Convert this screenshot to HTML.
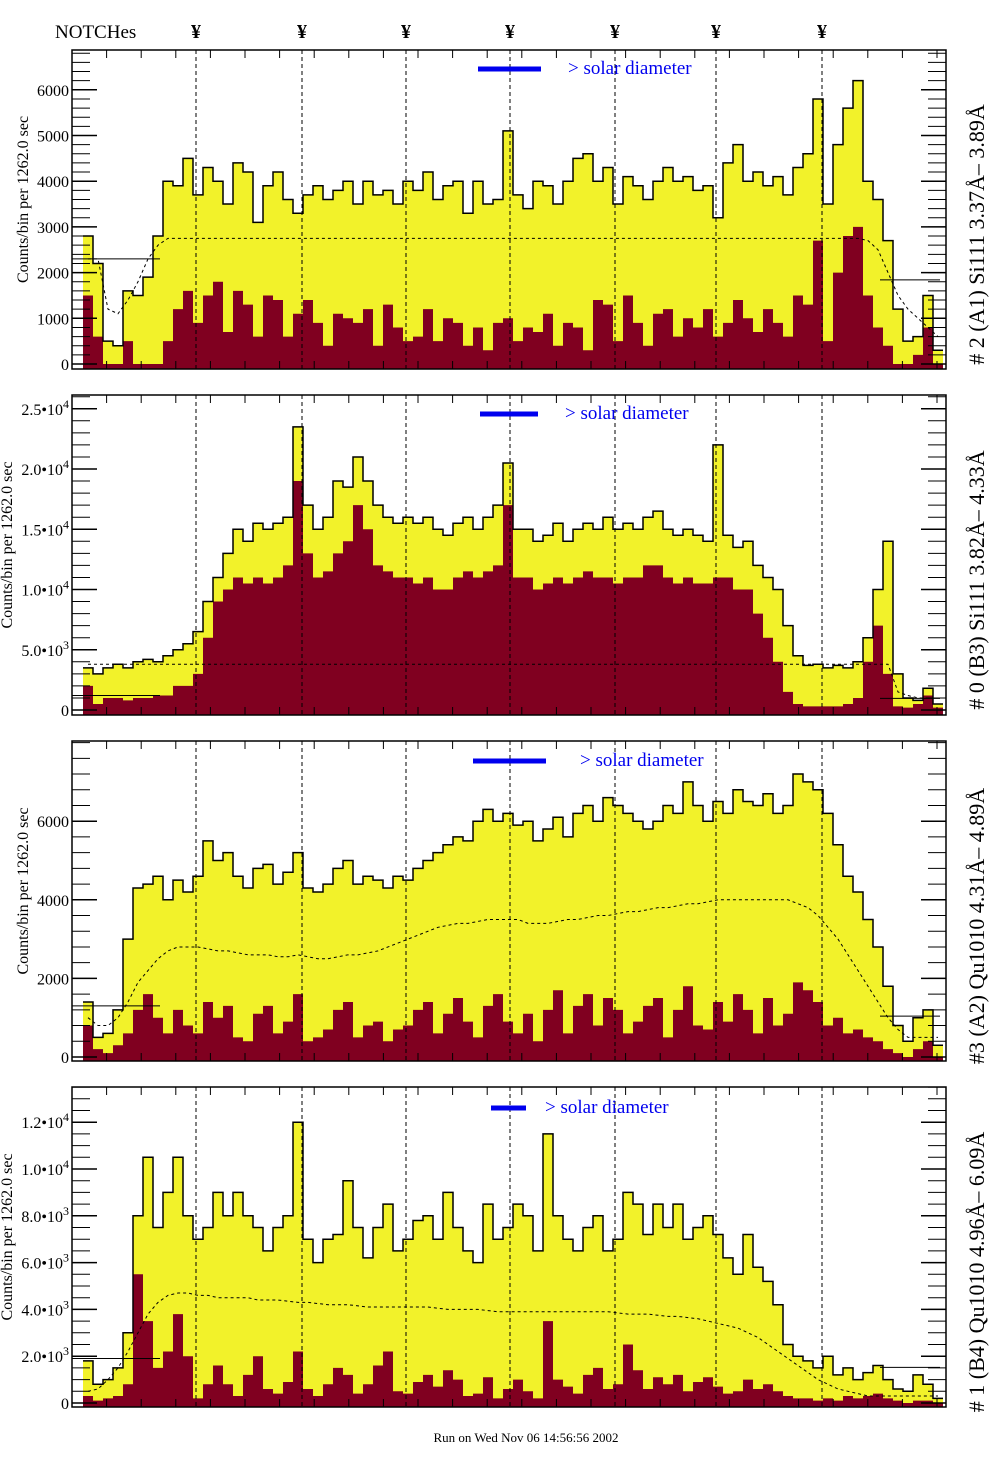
<!DOCTYPE html>
<html><head><meta charset="utf-8">
<style>
body{margin:0;background:#fff;}
svg{display:block;font-family:"Liberation Serif",serif;}
</style></head>
<body>
<svg id="chart" width="1004" height="1476" viewBox="0 0 1004 1476" xmlns="http://www.w3.org/2000/svg">
<text x="55" y="38" font-size="19">NOTCHes</text>
<text x="526" y="1442" font-size="13" text-anchor="middle">Run on Wed Nov 06 14:56:56 2002</text>
</svg>
<script>
// Bin centers start
const binStart = 88;
const binWidth = 10;
const notchX = [196, 302, 406, 510, 615, 716, 822];

// Panel 1 (thousands of counts)
const p1Total = [2.8,2.2,0.5,0.4,1.6,1.5,1.9,2.8,4.0,3.9,4.5,3.7,4.3,4.0,3.5,4.4,4.2,3.1,3.9,4.2,3.6,3.3,3.7,3.9,3.6,3.8,4.0,3.5,4.0,3.7,3.8,3.5,4.0,3.8,4.2,3.6,3.9,4.0,3.3,4.0,3.5,3.6,5.1,3.7,3.4,4.0,3.9,3.5,4.0,4.5,4.6,4.0,4.3,3.5,4.1,3.9,3.6,4.0,4.3,4.0,4.1,3.8,3.9,3.2,4.4,4.8,4.0,4.2,3.9,4.1,3.7,4.3,4.6,5.8,3.5,4.8,5.6,6.2,4.0,3.6,2.7,1.2,0.5,0.6,1.5,0.3];
const p1Inner = [1.5,0.6,0.0,0.0,0.5,0.0,0.0,0.0,0.5,1.2,1.6,0.9,1.5,1.8,0.7,1.6,1.3,0.6,1.5,1.4,0.6,1.1,1.4,0.9,0.4,1.1,1.0,0.9,1.2,0.4,1.3,0.8,0.5,0.6,1.2,0.5,1.0,0.9,0.4,0.8,0.3,0.9,1.0,0.5,0.8,0.7,1.1,0.4,0.9,0.8,0.3,1.4,1.3,0.5,1.5,0.9,0.4,1.1,1.2,0.6,1.0,0.8,1.2,0.6,0.9,1.4,1.0,0.7,1.2,0.9,0.6,1.5,1.3,2.7,0.5,2.0,2.8,3.0,1.5,0.8,0.4,0.0,0.0,0.2,0.8,0.0];
const p1Model = [2.3,2.3,1.2,1.1,1.4,1.8,2.3,2.6,2.75,2.75,2.75,2.75,2.75,2.75,2.75,2.75,2.75,2.75,2.75,2.75,2.75,2.75,2.75,2.75,2.75,2.75,2.75,2.75,2.75,2.75,2.75,2.75,2.75,2.75,2.75,2.75,2.75,2.75,2.75,2.75,2.75,2.75,2.75,2.75,2.75,2.75,2.75,2.75,2.75,2.75,2.75,2.75,2.75,2.75,2.75,2.75,2.75,2.75,2.75,2.75,2.75,2.75,2.75,2.75,2.75,2.75,2.75,2.75,2.75,2.75,2.75,2.75,2.75,2.75,2.75,2.75,2.75,2.75,2.7,2.5,2.0,1.5,1.2,1.0,0.8,0.6];
const p1Ticks = [0,1,2,3,4,5,6];
const p1TickLabels = ["0","1000","2000","3000","4000","5000","6000"];

// Panel 2
const p2Total = [3.5,3.0,3.5,3.8,3.5,4.0,4.2,4.0,4.5,5.0,5.5,6.5,9,11,13,15,14,15.5,15,15.5,16,23.5,17,15,16,19,18.5,21,19,17,16,15.5,16,15.5,16,15,14.5,15.5,16,15,16,17,20.5,15,15,14,14.5,15.5,14,15,15.5,15,16,15,15.5,15,16,16.5,15,14.5,15,14.5,14,22,14.5,13.5,14,12,11,10,7,4.5,3.7,3.8,3.5,3.7,3.5,4,6,10,14,3,1,0.8,1.8,0.5];
const p2Inner = [2,0.5,1,1,0.8,1,1,1.2,1.2,2,2,3,6,9,10,11,10.5,11,10.5,11,12,19,13,11,11.5,13,14,17,15,12,11.5,11,11,10.5,11,10,10,11,11.5,11,11.5,12,17,11,11,10,10.5,11,10.5,11,11.5,11,11,10.5,11,11,12,12,11,10.5,11,10.5,10.5,11,11,10,10,8,6,4,1.5,0.5,0.3,0.3,0.3,0.3,0.5,1,4,7,3,0.3,0.2,0.5,1.2,0.2];
const p2Model = [3.8,3.8,3.8,3.8,3.8,3.8,3.8,3.8,3.8,3.8,3.8,3.8,3.8,3.8,3.8,3.8,3.8,3.8,3.8,3.8,3.8,3.8,3.8,3.8,3.8,3.8,3.8,3.8,3.8,3.8,3.8,3.8,3.8,3.8,3.8,3.8,3.8,3.8,3.8,3.8,3.8,3.8,3.8,3.8,3.8,3.8,3.8,3.8,3.8,3.8,3.8,3.8,3.8,3.8,3.8,3.8,3.8,3.8,3.8,3.8,3.8,3.8,3.8,3.8,3.8,3.8,3.8,3.8,3.8,3.8,3.8,3.8,3.8,3.8,3.8,3.8,3.8,3.8,3.8,3.8,3.8,1.5,1.2,1.0,1.0,1.0];
const p2Ticks = [0,5,10,15,20,25];
const p2TickLabels = [["0",""],["5.0•10","3"],["1.0•10","4"],["1.5•10","4"],["2.0•10","4"],["2.5•10","4"]];

// Panel 3
const p3Total = [1.4,0.5,0.6,1.2,3.0,4.3,4.4,4.6,4.0,4.5,4.2,4.6,5.5,5.0,5.2,4.6,4.3,4.8,4.9,4.4,4.7,5.2,4.3,4.2,4.4,4.8,5.0,4.4,4.6,4.5,4.3,4.6,4.5,4.8,5.0,5.2,5.4,5.6,5.5,6.0,6.3,6.0,6.2,5.9,6.0,5.5,5.8,6.1,5.6,6.2,6.4,6.0,6.6,6.4,6.2,6.0,5.8,6.0,6.4,6.2,7.0,6.4,6.0,6.5,6.2,6.8,6.5,6.4,6.7,6.2,6.4,7.2,7.0,6.8,6.2,5.4,4.6,4.2,3.5,2.8,1.8,0.8,0.4,1.0,1.2,0.3];
const p3Inner = [0.8,0.2,0.1,0.3,0.6,1.2,1.6,1.0,0.6,1.2,0.8,0.6,1.4,1.0,1.3,0.5,0.4,1.1,1.3,0.6,0.9,1.6,0.4,0.5,0.7,1.2,1.4,0.5,0.8,0.9,0.4,0.7,0.8,1.2,1.4,0.6,1.1,1.5,0.9,0.5,1.3,1.6,0.9,0.6,1.1,0.4,1.2,1.7,0.6,1.3,1.6,0.8,1.5,1.2,0.6,0.9,1.3,1.5,0.5,1.2,1.8,0.8,0.7,1.4,0.9,1.6,1.2,0.6,1.5,0.8,1.1,1.9,1.7,1.4,0.8,1.0,0.6,0.7,0.5,0.4,0.2,0.1,0.0,0.2,0.4,0.0];
const p3Model = [1.0,0.8,0.8,1.0,1.4,1.9,2.2,2.5,2.7,2.8,2.8,2.8,2.75,2.7,2.7,2.65,2.6,2.6,2.6,2.55,2.55,2.6,2.55,2.5,2.5,2.55,2.6,2.6,2.65,2.7,2.8,2.9,3.0,3.1,3.2,3.3,3.35,3.4,3.4,3.45,3.5,3.5,3.5,3.5,3.4,3.4,3.4,3.45,3.5,3.5,3.55,3.6,3.6,3.65,3.7,3.7,3.75,3.8,3.8,3.85,3.9,3.9,3.95,4.0,4.0,4.0,4.0,4.0,4.0,4.0,4.0,3.9,3.8,3.6,3.3,3.0,2.6,2.2,1.8,1.4,1.0,0.7,0.5,0.5,0.5,0.5];
const p3Ticks = [0,2,4,6];
const p3TickLabels = ["0","2000","4000","6000"];

// Panel 4
const p4Total = [1.8,0.8,1.0,1.5,3.0,8.0,10.5,7.5,9,10.5,8,7.0,7.5,9,8,9,8,7.5,6.5,7.5,8,12,7,6,7,7.2,9.5,7.5,6.2,7.5,8.5,6.5,7.0,7.8,8.0,7.0,9.0,7.5,6.5,6.0,8.5,7.0,7.5,8.5,8.0,6.5,11.5,8,7.0,6.5,7.5,8,6.5,7,9,8.5,7.2,8.5,7.5,8.5,7,7.5,8,7.2,6.2,5.5,7.2,5.8,5.2,4.2,2.5,2.0,1.8,1.5,2.0,1.2,1.5,1.0,1.3,1.6,1.0,0.6,0.5,1.2,0.8,0.2];
const p4Inner = [0.3,0.1,0.2,0.3,0.8,5.5,3.5,1.5,2.2,3.8,2.0,0.2,0.8,1.6,0.8,0.3,1.2,2.0,0.6,0.4,0.9,2.2,0.6,0.3,0.8,1.5,1.2,0.4,0.8,1.6,2.2,0.5,0.4,0.9,1.2,0.7,1.4,1.0,0.3,0.4,1.1,0.2,0.6,1.0,0.5,0.2,3.5,1.0,0.7,0.4,1.2,1.5,0.6,0.8,2.5,1.4,0.6,1.1,0.8,1.2,0.5,0.9,1.1,0.7,0.4,0.5,1.0,0.6,0.8,0.5,0.3,0.2,0.2,0.1,0.2,0.1,0.3,0.2,0.3,0.4,0.2,0.1,0.0,0.1,0.1,0.0];
const p4Model = [0.5,0.6,1.0,1.5,2.2,3.0,3.8,4.3,4.6,4.7,4.7,4.6,4.6,4.5,4.5,4.5,4.5,4.4,4.4,4.4,4.35,4.3,4.3,4.25,4.2,4.2,4.2,4.15,4.1,4.1,4.1,4.1,4.1,4.1,4.1,4.05,4.0,4.0,4.0,4.0,3.95,3.9,3.9,3.9,3.9,3.9,3.9,3.9,3.9,3.9,3.9,3.9,3.9,3.85,3.8,3.8,3.8,3.75,3.7,3.7,3.65,3.6,3.5,3.4,3.3,3.2,3.0,2.8,2.5,2.2,1.9,1.6,1.3,1.0,0.8,0.6,0.5,0.4,0.3,0.3,0.3,0.3,0.3,0.3,0.3,0.3];
const p4Ticks = [0,2,4,6,8,10,12];
const p4TickLabels = [["0",""],["2.0•10","3"],["4.0•10","3"],["6.0•10","3"],["8.0•10","3"],["1.0•10","4"],["1.2•10","4"]];

const svg = document.getElementById('chart');
const NS = 'http://www.w3.org/2000/svg';
function mk(tag, attrs, parent){
  const e = document.createElementNS(NS, tag);
  for (const k in attrs) e.setAttribute(k, attrs[k]);
  (parent||svg).appendChild(e);
  return e;
}
const X0 = 72, X1 = 946;
const xBin = i => binStart + i*binWidth - binWidth/2;

const panels = [
  {top:50,bottom:369,zero:364,perUnit:45.7,total:p1Total,inner:p1Inner,model:p1Model,ticks:p1Ticks,labels:p1TickLabels,minor:0.2,titleX:28,
   title:"# 2 (A1) Si111  3.37Å– 3.89Å",legX1:478,legX2:541,legY:69,legTx:568,flat:2.3},
  {top:395,bottom:715,zero:710,perUnit:12.05,total:p2Total,inner:p2Inner,model:p2Model,ticks:p2Ticks,labels:p2TickLabels,minor:1,titleX:12,
   title:"# 0 (B3) Si111  3.82Å– 4.33Å",legX1:480,legX2:538,legY:414,legTx:565,flat:1.2},
  {top:741,bottom:1061,zero:1057,perUnit:39.3,total:p3Total,inner:p3Inner,model:p3Model,ticks:p3Ticks,labels:p3TickLabels,minor:0.4,titleX:28,
   title:"#3 (A2) Qu1010  4.31Å– 4.89Å",legX1:473,legX2:546,legY:761,legTx:580,flat:1.3},
  {top:1087,bottom:1407,zero:1403,perUnit:23.4,total:p4Total,inner:p4Inner,model:p4Model,ticks:p4Ticks,labels:p4TickLabels,minor:0.5,titleX:12,
   title:"# 1 (B4) Qu1010 4.96Å– 6.09Å",legX1:491,legX2:526,legY:1108,legTx:545,flat:1.9}
];

function stepPath(vals, yOf, zeroY){
  let d = 'M' + xBin(0) + ',' + zeroY;
  vals.forEach((v,i)=>{ d += ' L' + xBin(i) + ',' + yOf(v) + ' L' + (xBin(i)+binWidth) + ',' + yOf(v); });
  d += ' L' + (xBin(vals.length-1)+binWidth) + ',' + zeroY + ' Z';
  return d;
}
function stepLine(vals, yOf){
  let d = '';
  vals.forEach((v,i)=>{ d += (i?' L':'M') + xBin(i) + ',' + yOf(v) + ' L' + (xBin(i)+binWidth) + ',' + yOf(v); });
  return d;
}

panels.forEach((p, pi) => {
  const g = mk('g', {});
  
  
  const yOf = v => Math.max(p.top+1, p.zero - v*p.perUnit);

  const yl = mk('path', {d: stepPath(p.total, yOf, p.bottom), fill:'#f2f22a', stroke:'none'}, g);
  
  
  const mr = mk('path', {d: stepPath(p.inner, yOf, p.bottom), fill:'#800020', stroke:'none'}, g);
  
  
  const ol = mk('path', {d: stepLine(p.total, yOf), fill:'none', stroke:'#000', 'stroke-width':1.5}, g);
  
  
  const fl = mk('path', {d:'M'+X0+','+yOf(p.flat)+' L160,'+yOf(p.flat)+' M880,'+yOf(p.flat*0.8)+' L940,'+yOf(p.flat*0.8), fill:'none', stroke:'#000','stroke-width':1}, g);
  
  
  let md = '';
  p.model.forEach((v,i)=>{ md += (i?' L':'M') + (binStart+i*binWidth) + ',' + yOf(v); });
  const ml = mk('path', {d:md, fill:'none', stroke:'#000','stroke-width':1,'stroke-dasharray':'3,3'}, g);
  
  
  notchX.forEach(nx => {
    const nl = mk('line', {x1:nx,x2:nx,y1:p.top,y2:p.bottom,stroke:'#000','stroke-width':1,'stroke-dasharray':'4,3'}, g);
    
    
  });
  const fr = mk('rect', {x:X0,y:p.top,width:X1-X0,height:p.bottom-p.top,fill:'none',stroke:'#000','stroke-width':1.5}, g);
  
  
  for (let x = 72; x <= 946; x += 34.6) {
    mk('line', {x1:x,x2:x,y1:p.top,y2:p.top+8,stroke:'#000'}, g);
    mk('line', {x1:x,x2:x,y1:p.bottom,y2:p.bottom-8,stroke:'#000'}, g);
  }
  const maxV = (p.zero - p.top)/p.perUnit;
  for (let v = 0; v <= maxV + 1e-6; v += p.minor) {
    const y = p.zero - v*p.perUnit;
    mk('line', {x1:X0,x2:X0+18,y1:y,y2:y,stroke:'#000'}, g);
    mk('line', {x1:X1,x2:X1-18,y1:y,y2:y,stroke:'#000'}, g);
  }
  p.ticks.forEach((t, ti) => {
    const y = p.zero - t*p.perUnit;
    mk('line', {x1:X0,x2:X0+25,y1:y,y2:y,stroke:'#000','stroke-width':1.5}, g);
    mk('line', {x1:X1,x2:X1-25,y1:y,y2:y,stroke:'#000','stroke-width':1.5}, g);
    const lab = p.labels[ti];
    const tx = mk('text', {x:69,y:y+6,'font-size':16,'text-anchor':'end'}, g);
    
    
    if (Array.isArray(lab)) {
      tx.textContent = lab[0];
      if (lab[1]) {
        const sup = mk('tspan', {dy:-7,'font-size':12}, tx);
        sup.textContent = lab[1];
      }
    } else tx.textContent = lab;
  });
  const yt = mk('text', {x:0,y:0,'font-size':16,'text-anchor':'middle',transform:'translate('+p.titleX+','+((p.top+p.bottom)/2-10)+') rotate(-90)'}, g);
  
  
  yt.textContent = 'Counts/bin per   1262.0 sec';
  const rt = mk('text', {x:0,y:0,'font-size':22,'text-anchor':'middle',transform:'translate(984,'+((p.top+p.bottom)/2+25)+') rotate(-90)'}, g);
  
  
  rt.textContent = p.title;
  const lg = mk('line', {x1:p.legX1,x2:p.legX2,y1:p.legY,y2:p.legY,stroke:'#0000ee','stroke-width':5}, g);
  
  
  const lt = mk('text', {x:p.legTx,y:p.legY+5,'font-size':19,fill:'#0000ee'}, g);
  
  
  lt.textContent = '> solar diameter';
});

notchX.forEach(nx => {
  const y = mk('text', {x:nx,y:38,'font-size':20,'font-weight':'bold','text-anchor':'middle'});
  
  
  y.textContent = '¥';
});
</script>
</body></html>
